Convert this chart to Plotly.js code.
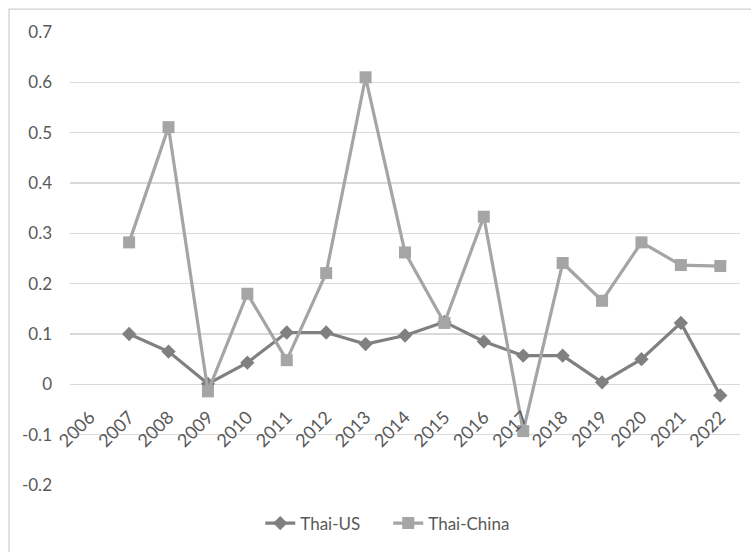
<!DOCTYPE html>
<html><head><meta charset="utf-8">
<script src="https://cdn.plot.ly/plotly-3.0.1.min.js"></script>
<style>html,body{margin:0;padding:0;background:#fff}#chart{width:751px;height:552px}</style>
</head><body><div id="chart"></div>
<script>
const years = ['2006','2007','2008','2009','2010','2011','2012','2013','2014','2015','2016','2017','2018','2019','2020','2021','2022'];
const thaiUS = [null,0.100,0.065,0.001,0.043,0.103,0.103,0.080,0.097,0.124,0.085,0.057,0.057,0.004,0.050,0.122,-0.022];
const thaiChina = [null,0.282,0.511,-0.014,0.180,0.048,0.221,0.610,0.262,0.122,0.333,-0.093,0.241,0.166,0.282,0.237,0.235];
const yTicks = [-0.2,-0.1,0,0.1,0.2,0.3,0.4,0.5,0.6,0.7];

const fam = 'Lato, "Open Sans", sans-serif';
const gray = '#595959';
const traces = [
  {x:years, y:thaiUS, name:'Thai-US', type:'scatter', mode:'lines+markers',
   line:{color:'#808080', width:3.2}, marker:{symbol:'diamond', size:11, color:'#808080'}, connectgaps:false},
  {x:years, y:thaiChina, name:'Thai-China', type:'scatter', mode:'lines+markers',
   line:{color:'#a5a5a5', width:3.2}, marker:{symbol:'square', size:12, color:'#a5a5a5'}, connectgaps:false}
];
const layout = {
  width:751, height:552,
  margin:{l:70, r:11, t:32, b:64},
  paper_bgcolor:'#fff', plot_bgcolor:'#fff',
  font:{family:fam, size:16, color:gray},
  showlegend:true,
  legend:{orientation:'h', x:0.475, xanchor:'center', y:-0.085, yanchor:'middle',
    font:{family:fam, size:17, color:gray}, entrywidth:83, entrywidthmode:'pixels'},
  xaxis:{type:'category', categoryorder:'array', categoryarray:years, range:[-0.5,16.5],
    anchor:'free', position:2/9, tickangle:-45, showgrid:false, zeroline:false, showline:false,
    ticks:'', tickfont:{family:fam, size:18, color:gray}, ticklabelstandoff:18, fixedrange:true},
  yaxis:{range:[-0.2,0.7], tickvals:yTicks, ticktext:yTicks.map(v=>String(v)), showgrid:true, gridcolor:'#d9d9d9', gridwidth:1.3,
    zeroline:false, showline:false, ticks:'', tickfont:{family:fam, size:17, color:gray}, ticklabelstandoff:17, fixedrange:true},
  shapes:[{type:'rect', xref:'paper', yref:'paper', x0:-0.091, x1:1.1, y0:-0.3, y1:1.0504,
    line:{color:'#d0d0d0', width:1.3}, fillcolor:'rgba(0,0,0,0)', layer:'below'}]
};
Plotly.newPlot('chart', traces, layout, {displayModeBar:false, staticPlot:true});
</script></body></html>
